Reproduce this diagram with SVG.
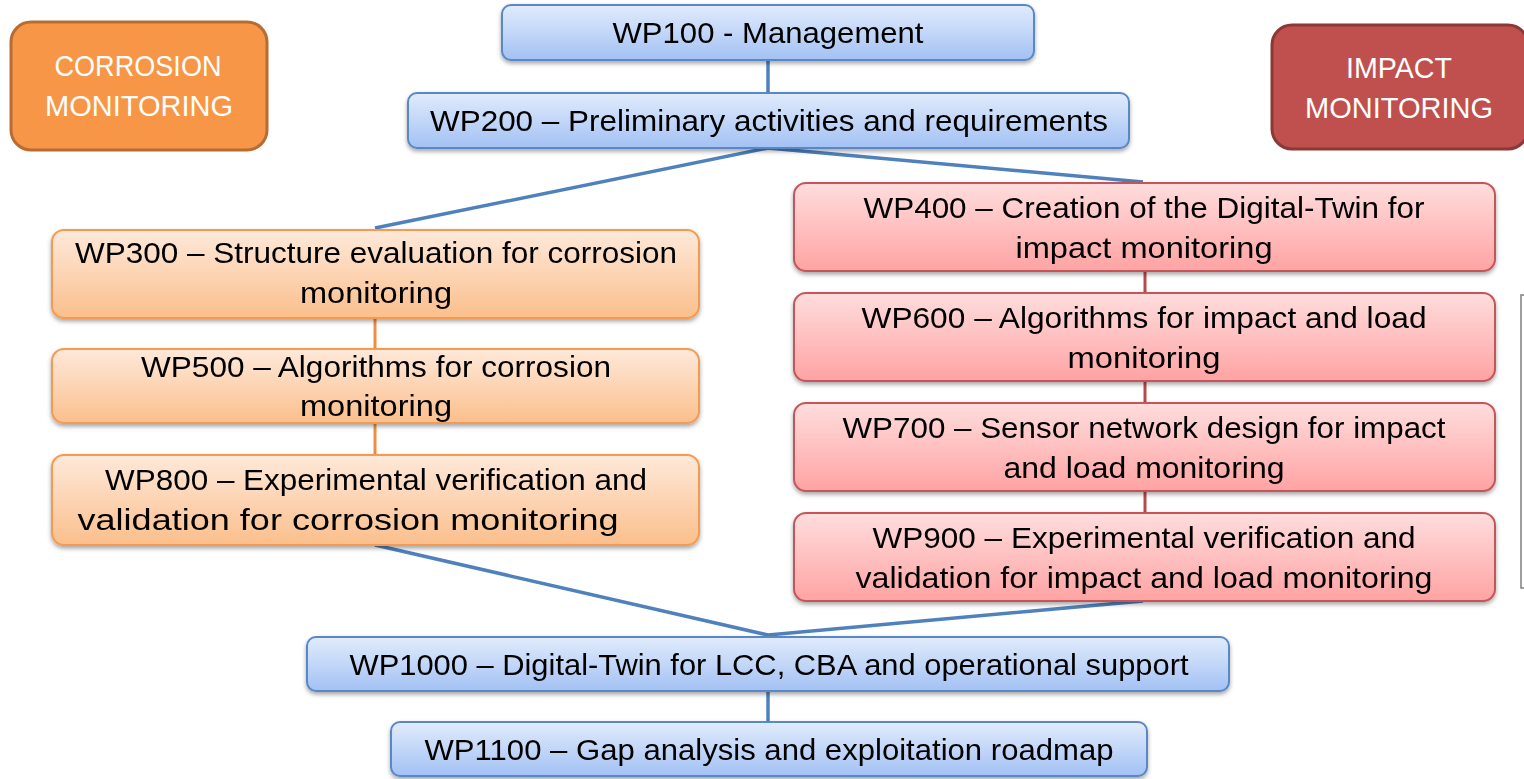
<svg xmlns="http://www.w3.org/2000/svg" width="1524" height="779" viewBox="0 0 1524 779">
<style>
.t{font-family:"Liberation Sans",Arial,sans-serif;font-size:30px;fill:#000;text-anchor:middle}
.h{font-family:"Liberation Sans",Arial,sans-serif;font-size:29px;fill:#fff;text-anchor:middle}
.blue{fill:url(#gB);stroke:#5A87C6;stroke-width:2}
.or{fill:url(#gO);stroke:#F59A4F;stroke-width:2}
.red{fill:url(#gR);stroke:#C4575A;stroke-width:2}
.cb{stroke:#4F81BD;stroke-width:3.5;fill:none}
.co{stroke:#F08C43;stroke-width:3;fill:none}
.cr{stroke:#B8494B;stroke-width:3;fill:none}
</style>
<defs>
<linearGradient id="gB" x1="0" y1="0" x2="0" y2="1"><stop offset="0" stop-color="#E1ECFC"/><stop offset="1" stop-color="#A3C1F4"/></linearGradient>
<linearGradient id="gO" x1="0" y1="0" x2="0" y2="1"><stop offset="0" stop-color="#FEE9DA"/><stop offset="1" stop-color="#FBBF8C"/></linearGradient>
<linearGradient id="gR" x1="0" y1="0" x2="0" y2="1"><stop offset="0" stop-color="#FFDDDD"/><stop offset="1" stop-color="#FFA3A3"/></linearGradient>
<filter id="sh" x="-5%" y="-10%" width="110%" height="130%"><feDropShadow dx="0" dy="2.5" stdDeviation="2" flood-color="#000" flood-opacity="0.35"/></filter>
</defs>

<g id="connectors">
<line class="cb" x1="768" y1="60" x2="768" y2="93"/>
<polyline class="cb" points="375,228 768,148 1143,182"/>
<line class="co" x1="375" y1="318" x2="375" y2="349"/>
<line class="co" x1="375" y1="423" x2="375" y2="455"/>
<line class="cr" x1="1145" y1="271" x2="1145" y2="293"/>
<line class="cr" x1="1145" y1="381" x2="1145" y2="403"/>
<line class="cr" x1="1145" y1="491" x2="1145" y2="513"/>
<polyline class="cb" points="375,545 768,635 1143,601"/>
<line class="cb" x1="768" y1="691" x2="768" y2="722"/>
<polyline points="1524,295 1521,295 1521,588 1524,588" fill="none" stroke="#7F7F7F" stroke-width="1.5"/>
</g>

<g id="corrosion-header">
<rect x="11" y="22" width="256" height="128" rx="20" fill="#F79646" stroke="#B56D33" stroke-width="3"/>
<text class="h" x="138" y="76" textLength="167" lengthAdjust="spacingAndGlyphs">CORROSION</text>
<text class="h" x="139" y="116" textLength="188" lengthAdjust="spacingAndGlyphs">MONITORING</text>
</g>

<g id="impact-header">
<rect x="1272" y="25" width="256" height="124" rx="20" fill="#C0504D" stroke="#8C3836" stroke-width="3"/>
<text class="h" x="1399" y="78" textLength="106" lengthAdjust="spacingAndGlyphs">IMPACT</text>
<text class="h" x="1399" y="118" textLength="188" lengthAdjust="spacingAndGlyphs">MONITORING</text>
</g>

<g id="wp100" filter="url(#sh)">
<rect class="blue" x="502" y="5" width="532" height="55" rx="9"/>
<text class="t" x="768" y="43" textLength="311" lengthAdjust="spacingAndGlyphs">WP100 - Management</text>
</g>

<g id="wp200" filter="url(#sh)">
<rect class="blue" x="408" y="93" width="721" height="55" rx="9"/>
<text class="t" x="769" y="131" textLength="678" lengthAdjust="spacingAndGlyphs">WP200 – Preliminary activities and requirements</text>
</g>

<g id="wp300" filter="url(#sh)">
<rect class="or" x="52" y="230" width="647" height="88" rx="12"/>
<text class="t" x="376" y="263" textLength="602" lengthAdjust="spacingAndGlyphs">WP300 – Structure evaluation for corrosion</text>
<text class="t" x="376" y="303" textLength="152" lengthAdjust="spacingAndGlyphs">monitoring</text>
</g>

<g id="wp500" filter="url(#sh)">
<rect class="or" x="52" y="349" width="647" height="74" rx="12"/>
<text class="t" x="376" y="377" textLength="470" lengthAdjust="spacingAndGlyphs">WP500 – Algorithms for corrosion</text>
<text class="t" x="376" y="416" textLength="152" lengthAdjust="spacingAndGlyphs">monitoring</text>
</g>

<g id="wp800" filter="url(#sh)">
<rect class="or" x="52" y="455" width="647" height="90" rx="12"/>
<text class="t" x="376" y="490" textLength="542" lengthAdjust="spacingAndGlyphs">WP800 – Experimental verification and</text>
<text class="t" x="348" y="530" textLength="541" lengthAdjust="spacingAndGlyphs">validation for corrosion monitoring</text>
</g>

<g id="wp400" filter="url(#sh)">
<rect class="red" x="794" y="183" width="701" height="88" rx="12"/>
<text class="t" x="1144" y="218" textLength="561" lengthAdjust="spacingAndGlyphs">WP400 – Creation of the Digital-Twin for</text>
<text class="t" x="1144" y="258" textLength="257" lengthAdjust="spacingAndGlyphs">impact monitoring</text>
</g>

<g id="wp600" filter="url(#sh)">
<rect class="red" x="794" y="293" width="701" height="88" rx="12"/>
<text class="t" x="1144" y="328" textLength="565" lengthAdjust="spacingAndGlyphs">WP600 – Algorithms for impact and load</text>
<text class="t" x="1144" y="368" textLength="153" lengthAdjust="spacingAndGlyphs">monitoring</text>
</g>

<g id="wp700" filter="url(#sh)">
<rect class="red" x="794" y="403" width="701" height="88" rx="12"/>
<text class="t" x="1144" y="438" textLength="603" lengthAdjust="spacingAndGlyphs">WP700 – Sensor network design for impact</text>
<text class="t" x="1144" y="478" textLength="281" lengthAdjust="spacingAndGlyphs">and load monitoring</text>
</g>

<g id="wp900" filter="url(#sh)">
<rect class="red" x="794" y="513" width="701" height="88" rx="12"/>
<text class="t" x="1144" y="548" textLength="543" lengthAdjust="spacingAndGlyphs">WP900 – Experimental verification and</text>
<text class="t" x="1144" y="588" textLength="577" lengthAdjust="spacingAndGlyphs">validation for impact and load monitoring</text>
</g>

<g id="wp1000" filter="url(#sh)">
<rect class="blue" x="307" y="637" width="922" height="54" rx="9"/>
<text class="t" x="769" y="675" textLength="839" lengthAdjust="spacingAndGlyphs">WP1000 – Digital-Twin for LCC, CBA and operational support</text>
</g>

<g id="wp1100" filter="url(#sh)">
<rect class="blue" x="391" y="722" width="756" height="54" rx="9"/>
<text class="t" x="769" y="760" textLength="689" lengthAdjust="spacingAndGlyphs">WP1100 – Gap analysis and exploitation roadmap</text>
</g>
</svg>
